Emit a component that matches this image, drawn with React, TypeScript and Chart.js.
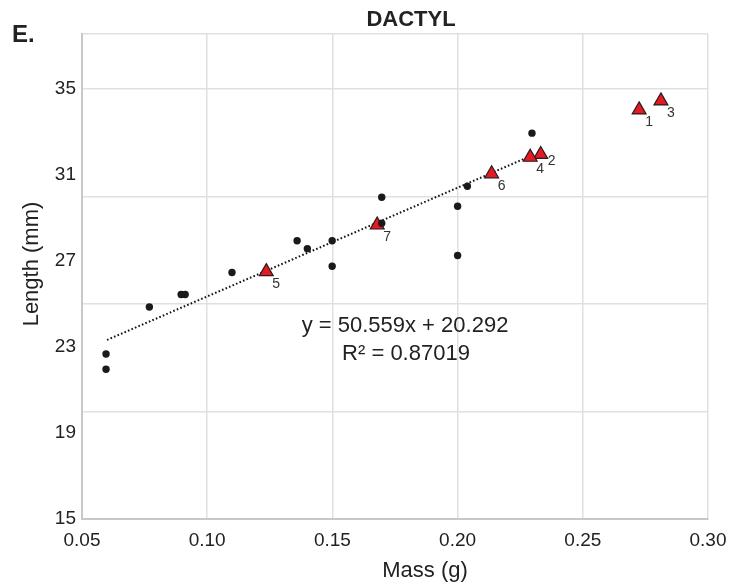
import React, { useEffect, useRef } from "react";
import { Chart, registerables } from "chart.js";

Chart.register(...registerables);

// ---- data ----
const dotX = [0.0596, 0.0596, 0.0769, 0.0896, 0.0912, 0.1099, 0.1359, 0.14, 0.1499, 0.1499, 0.1697, 0.1697, 0.2, 0.2, 0.2039, 0.2297];
const dotY = [22.67, 21.96, 24.86, 25.44, 25.44, 26.46, 27.94, 27.57, 27.94, 26.75, 29.96, 28.75, 29.54, 27.25, 30.47, 32.94];

const triLabels = ["1", "2", "3", "4", "5", "6", "7"];
const triX = [0.2725, 0.2332, 0.2812, 0.229, 0.1236, 0.2136, 0.1679];
const triY = [34.02, 31.95, 34.44, 31.82, 26.5, 31.05, 28.67];

// trendline from the printed equation
const trendSlope = 50.559;
const trendIntercept = 20.292;
const trendR2 = 0.87019;
const trendXRange = [0.06, 0.228];

const xTickValues = [0.05, 0.1, 0.15, 0.2, 0.25, 0.3];
const yTickValues = [15, 19, 23, 27, 31, 35];
const yGridValues = [15, 20, 25, 30, 35];
const xMin = 0.05;
const xMax = 0.3;
const yMin = 15;
const yMax = 37.55;

const FONT = "'Liberation Sans', Arial, Helvetica, sans-serif";

export default function App() {
  const ref = useRef<HTMLCanvasElement | null>(null);

  useEffect(() => {
    document.body.style.margin = "0";
    const canvas = ref.current!;

    const textPlugin = {
      id: "texts",
      afterDatasetsDraw(chart: any) {
        const ctx = chart.ctx as CanvasRenderingContext2D;
        const xs = chart.scales.x;
        const ys = chart.scales.y;
        ctx.save();
        ctx.font = `14px ${FONT}`;
        ctx.fillStyle = "#333";
        ctx.textAlign = "left";
        ctx.textBaseline = "middle";
        triLabels.forEach((lab, i) => {
          const px = xs.getPixelForValue(triX[i]);
          const py = ys.getPixelForValue(triY[i]);
          if (lab === "2") ctx.fillText(lab, px + 7, py + 7);
          else ctx.fillText(lab, px + 6, py + 12);
        });
        ctx.restore();
      },
      afterDraw(chart: any) {
        const ctx = chart.ctx as CanvasRenderingContext2D;
        ctx.save();
        ctx.fillStyle = "#222";
        ctx.textBaseline = "alphabetic";
        ctx.font = `bold 24px ${FONT}`;
        ctx.textAlign = "left";
        ctx.fillText("E.", 12, 42);
        ctx.font = `bold 22px ${FONT}`;
        ctx.textAlign = "center";
        ctx.fillText("DACTYL", 411, 26);
        ctx.font = `22px ${FONT}`;
        ctx.fillText("Mass (g)", 425, 577);
        ctx.save();
        ctx.translate(38, 264);
        ctx.rotate(-Math.PI / 2);
        ctx.fillText("Length (mm)", 0, 0);
        ctx.restore();
        ctx.font = `22px ${FONT}`;
        ctx.fillText(`y = ${trendSlope}x + ${trendIntercept}`, 405, 332);
        ctx.fillText(`R² = ${trendR2}`, 406, 360);
        ctx.restore();
      },
    };

    const chart = new Chart(canvas, {
      type: "scatter",
      data: {
        datasets: [
          {
            label: "dots",
            data: dotX.map((x, i) => ({ x, y: dotY[i] })),
            pointStyle: "circle",
            pointRadius: 3.7,
            pointBackgroundColor: "#1a1a1a",
            pointBorderWidth: 0,
            borderWidth: 0,
          },
          {
            label: "triangles",
            data: triX.map((x, i) => ({ x, y: triY[i] })),
            pointStyle: "triangle",
            pointRadius: 8,
            pointBackgroundColor: "#e41b23",
            pointBorderColor: "#2a1a1a",
            pointBorderWidth: 1.2,
          },
          {
            label: "trend",
            type: "line",
            data: trendXRange.map((x) => ({ x, y: trendSlope * x + trendIntercept })),
            showLine: true,
            borderColor: "#111",
            borderWidth: 2,
            borderDash: [1.6, 2.2],
            pointRadius: 0,
            fill: false,
          } as any,
        ],
      },
      options: {
        animation: false,
        responsive: false,
        maintainAspectRatio: false,
        layout: { padding: { left: 0, right: 24, top: 34, bottom: 0 } },
        plugins: {
          legend: { display: false },
          tooltip: { enabled: false },
          title: { display: false },
        },
        scales: {
          x: {
            type: "linear",
            min: xMin,
            max: xMax,
            afterBuildTicks: (s: any) => {
              s.ticks = xTickValues.map((v) => ({ value: v }));
            },
            afterFit: (s: any) => {
              s.height = 67;
              s.paddingLeft = 0;
              s.paddingRight = 0;
            },
            grid: { color: "#e0e0e0", lineWidth: 1.5, drawTicks: false },
            border: { color: "#c8c8c8", width: 2 },
            ticks: {
              padding: 10,
              color: "#222",
              font: { family: FONT, size: 19 },
              callback: (v: any) => Number(v).toFixed(2),
            },
          },
          y: {
            type: "linear",
            position: "left",
            min: yMin,
            max: yMax,
            afterBuildTicks: (s: any) => {
              s.ticks = yTickValues.map((v) => ({ value: v }));
            },
            afterFit: (s: any) => {
              s.width = 82;
              s.paddingTop = 0;
              s.paddingBottom = 0;
            },
            grid: { display: false, drawTicks: false },
            border: { display: true, color: "#c8c8c8", width: 2 },
            ticks: {
              padding: 6,
              color: "#222",
              font: { family: FONT, size: 19 },
            },
          },
          yGrid: {
            type: "linear",
            position: "right",
            min: yMin,
            max: yMax,
            afterBuildTicks: (s: any) => {
              s.ticks = [...yGridValues, yMax].map((v) => ({ value: v }));
            },
            afterFit: (s: any) => {
              s.width = 0;
              s.paddingTop = 0;
              s.paddingBottom = 0;
            },
            grid: { color: "#e0e0e0", lineWidth: 1.5, drawTicks: false },
            border: { display: false },
            ticks: { display: false },
          },
        },
      },
      plugins: [textPlugin],
    });

    return () => chart.destroy();
  }, []);

  return (
    <div style={{ width: 732, height: 586 }}>
      <canvas ref={ref} width={732} height={586} style={{ width: 732, height: 586, display: "block" }} />
    </div>
  );
}
